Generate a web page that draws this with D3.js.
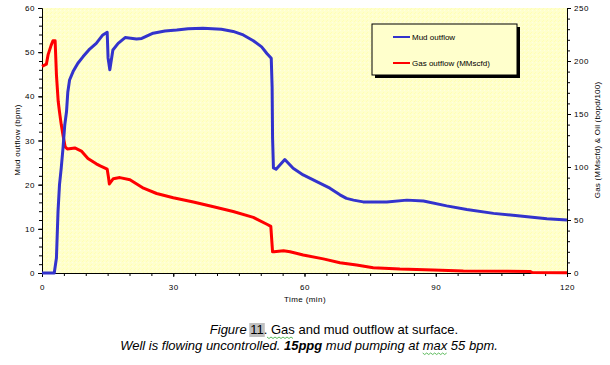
<!DOCTYPE html>
<html>
<head>
<meta charset="utf-8">
<script src="https://cdn.jsdelivr.net/npm/d3@7"></script>
<style>
  body { margin: 0; background: #fff; }
  text { font-family: "Liberation Sans", Arial, sans-serif; }
</style>
</head>
<body>
<div id="chart"></div>
<script>

// mud outflow (bpm) vs time (min)
var mudTime = [0, 2.8, 3.3, 3.66, 4.0, 4.4, 4.8, 5.2, 5.6, 5.9, 6.3, 7.1, 8.2, 9.4, 10.9, 12.4, 13.9, 14.9, 15.1, 15.5, 16.2, 17.4, 19, 21.6, 22.8, 25.4, 28.1, 30.8, 33.4, 36.8, 41, 43.7, 46, 48.3, 50.2, 51.4, 52.4, 52.6, 52.7, 52.9, 53.5, 55.5, 57.4, 59.7, 62.8, 65.8, 68.1, 69.6, 71.2, 73.4, 78.8, 83.4, 87.2, 92.5, 97.1, 103.2, 109.3, 115.4, 120]
var mudFlow = [0, 0, 3.4, 13.9, 20, 23.8, 28.3, 33.5, 36.5, 41, 43.7, 45.6, 47.5, 49, 50.7, 52, 53.9, 54.5, 48.7, 46, 50.5, 52, 53.3, 53, 53.1, 54.3, 54.8, 55, 55.3, 55.4, 55.2, 54.7, 53.9, 52.6, 51.2, 49.7, 48.6, 42, 30.6, 23.8, 23.5, 25.7, 23.7, 22.2, 20.7, 19.2, 17.7, 16.9, 16.5, 16.1, 16.1, 16.5, 16.3, 15.2, 14.4, 13.5, 12.9, 12.3, 12]

// gas outflow (MMscfd) vs time (min), right axis
var gasTime = [0, 1, 1.4, 2.1, 2.5, 3.0, 3.3, 3.7, 4.0, 4.4, 4.8, 5.3, 5.8, 7.5, 9, 10.5, 12.4, 13.3, 14.9, 15.2, 15.4, 16.3, 17.8, 20.1, 23.2, 26.2, 30, 34.6, 39.2, 43.7, 48.3, 51.4, 52.3, 52.7, 53, 55.2, 56.7, 59.7, 64.3, 68.1, 71.9, 75.7, 81.8, 89.4, 96.3, 111.5, 112, 120]
var gasFlow = [195, 197, 206, 215, 219, 219, 187, 162, 152, 140, 130, 119, 117, 118, 115, 108, 103, 101, 98, 90, 84, 89, 90, 88, 80, 75, 71, 67, 62.5, 58, 52.5, 46, 44, 20, 20, 21, 20, 17, 13.3, 9.6, 7.5, 5, 3.7, 2.9, 1.9, 1.5, 0.5, 0.3]

var xTicks = [0, 30, 60, 90, 120]
var yLeftTicks = [0, 10, 20, 30, 40, 50, 60]
var yRightTicks = [0, 50, 100, 150, 200, 250]

var width = 610, height = 365
var plot = {left: 42, right: 567, top: 8, bottom: 273}

var svg = d3.select("#chart").append("svg")
    .attr("width", width)
    .attr("height", height)

var x = d3.scaleLinear().domain([0, 120]).range([plot.left, plot.right])
var yL = d3.scaleLinear().domain([0, 60]).range([plot.bottom, plot.top])
var yR = d3.scaleLinear().domain([0, 250]).range([plot.bottom, plot.top])

// dithered yellow plot background (diagonal texture)
var defs = svg.append("defs")
var pat = defs.append("pattern")
    .attr("id", "dither")
    .attr("width", 4).attr("height", 4)
    .attr("patternUnits", "userSpaceOnUse")
pat.append("rect").attr("width", 4).attr("height", 4).attr("fill", "#ffffcc")
pat.append("rect").attr("x", 3).attr("y", 0).attr("width", 1).attr("height", 1).attr("fill", "#ffffb4")
pat.append("rect").attr("x", 2).attr("y", 1).attr("width", 1).attr("height", 1).attr("fill", "#ffffb4")
pat.append("rect").attr("x", 0).attr("y", 2).attr("width", 1).attr("height", 1).attr("fill", "#ffffe0")

svg.append("rect")
    .attr("x", plot.left).attr("y", plot.top)
    .attr("width", plot.right - plot.left)
    .attr("height", plot.bottom - plot.top)
    .attr("fill", "url(#dither)")

// axes with minor ticks
function minor(axis, ticks) {
  return axis.tickValues(ticks).tickFormat("").tickSizeOuter(0)
}

svg.append("g").attr("transform", "translate(0," + plot.bottom + ")")
    .call(minor(d3.axisBottom(x).tickSize(3), d3.range(0, 121, 5)))
svg.append("g").attr("transform", "translate(0," + plot.bottom + ")")
    .call(d3.axisBottom(x).tickValues(xTicks).tickSize(4).tickSizeOuter(0))
    .attr("class", "xaxis")

svg.append("g").attr("transform", "translate(" + plot.left + ",0)")
    .call(minor(d3.axisLeft(yL).tickSize(3), d3.range(0, 61, 2)))
svg.append("g").attr("transform", "translate(" + plot.left + ",0)")
    .call(d3.axisLeft(yL).tickValues(yLeftTicks).tickSize(4).tickSizeOuter(0))

svg.append("g").attr("transform", "translate(" + plot.right + ",0)")
    .call(minor(d3.axisRight(yR).tickSize(3), d3.range(0, 251, 10)))
svg.append("g").attr("transform", "translate(" + plot.right + ",0)")
    .call(d3.axisRight(yR).tickValues(yRightTicks).tickSize(4).tickSizeOuter(0))

svg.selectAll(".domain").attr("stroke", "#000").attr("stroke-width", 1)
svg.selectAll(".tick line").attr("stroke", "#000")
svg.selectAll(".tick text")
    .style("font-size", "8px")
    .style("letter-spacing", "0.6px")
    .attr("fill", "#000")
svg.selectAll(".xaxis .tick text").attr("dy", "1.3em")

// lines
var mudLine = d3.line()
    .x(function(d, i) { return x(mudTime[i]) })
    .y(function(d) { return yL(d) })
var gasLine = d3.line()
    .x(function(d, i) { return x(gasTime[i]) })
    .y(function(d) { return yR(d) })

svg.append("path")
    .attr("d", gasLine(gasFlow))
    .attr("fill", "none")
    .attr("stroke", "#ff0000")
    .attr("stroke-width", 3)
    .attr("stroke-linejoin", "round")

svg.append("path")
    .attr("d", mudLine(mudFlow))
    .attr("fill", "none")
    .attr("stroke", "#3333cc")
    .attr("stroke-width", 3)
    .attr("stroke-linejoin", "round")

// axis titles
svg.append("text")
    .attr("transform", "translate(20,140) rotate(-90)")
    .attr("text-anchor", "middle")
    .style("font-size", "8px")
    .style("letter-spacing", "0.3px")
    .text("Mud outflow (bpm)")

svg.append("text")
    .attr("transform", "translate(600,140) rotate(-90)")
    .attr("text-anchor", "middle")
    .style("font-size", "8px")
    .style("letter-spacing", "0.2px")
    .text("Gas (MMscfd) & Oil (bopd/100)")

svg.append("text")
    .attr("x", 305).attr("y", 302)
    .attr("text-anchor", "middle")
    .style("font-size", "8px")
    .style("letter-spacing", "0.4px")
    .text("Time (min)")

// legend
var lg = svg.append("g")
lg.append("rect").attr("x", 375).attr("y", 27).attr("width", 145).attr("height", 51).attr("fill", "#000")
lg.append("rect").attr("x", 372).attr("y", 24).attr("width", 145).attr("height", 51)
    .attr("fill", "#ffffcc").attr("stroke", "#000").attr("stroke-width", 1)
var legendItems = [["Mud outflow", "#3333cc"], ["Gas outflow (MMscfd)", "#ff0000"]]
legendItems.forEach(function(d, i) {
  var yy = 37 + i * 26
  lg.append("line").attr("x1", 393).attr("x2", 410).attr("y1", yy).attr("y2", yy)
      .attr("stroke", d[1]).attr("stroke-width", 2)
  lg.append("text").attr("x", 412).attr("y", yy + 3)
      .style("font-size", "8px")
      .text(d[0])
})

// caption
var capG = svg.append("g")
var c1 = capG.append("text").attr("x", 334).attr("y", 334)
    .attr("text-anchor", "middle").style("font-size", "13px")
c1.append("tspan").style("font-style", "italic").text("Figure ")
var num = c1.append("tspan").text("11")
c1.append("tspan").text(". Gas and mud outflow at surface.")

var c2 = capG.append("text").attr("x", 309).attr("y", 350)
    .attr("text-anchor", "middle").style("font-size", "13px").style("font-style", "italic")
c2.append("tspan").text("Well is flowing uncontrolled. ")
c2.append("tspan").style("font-weight", "bold").text("15ppg")
c2.append("tspan").text(" mud pumping at max 55 bpm.")

// grey highlight behind "11" and green squiggles under "Gas" and "max"
var t1 = c1.node()
var s11 = t1.getStartPositionOfChar(7).x
var e11 = t1.getEndPositionOfChar(8).x
capG.insert("rect", "text").attr("x", s11 - 1).attr("y", 323).attr("width", e11 - s11 + 2).attr("height", 14)
    .attr("fill", "#c0c0c0")

function squiggle(x0, x1, y) {
  var pts = []
  for (var xx = x0, k = 0; xx <= x1; xx += 2, k++) pts.push([xx, y + (k % 2 ? 1.5 : 0)])
  capG.append("path").attr("d", d3.line()(pts)).attr("fill", "none")
      .attr("stroke", "#33aa33").attr("stroke-width", 0.8)
}
var gS = t1.getStartPositionOfChar(11).x, gE = t1.getEndPositionOfChar(13).x
squiggle(gS - 4, gE, 337)
var t2 = c2.node()
var str2 = "Well is flowing uncontrolled. 15ppg mud pumping at max 55 bpm."
var mi = str2.indexOf("max")
squiggle(t2.getStartPositionOfChar(mi).x, t2.getEndPositionOfChar(mi + 2).x, 353)

</script>
</body>
</html>
